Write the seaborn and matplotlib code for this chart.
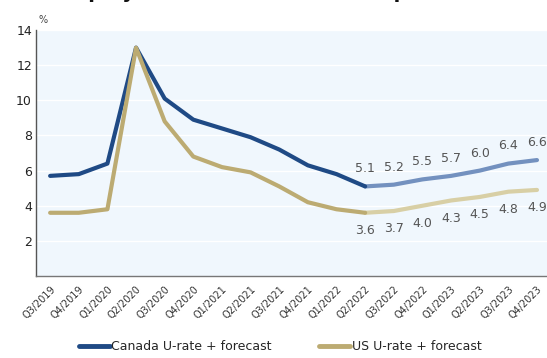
import matplotlib
matplotlib.use("Agg")
import matplotlib.pyplot as plt
import seaborn as sns
import pandas as pd
from matplotlib.lines import Line2D

quarters = ["Q3/2019", "Q4/2019", "Q1/2020", "Q2/2020", "Q3/2020", "Q4/2020",
            "Q1/2021", "Q2/2021", "Q3/2021", "Q4/2021", "Q1/2022", "Q2/2022",
            "Q3/2022", "Q4/2022", "Q1/2023", "Q2/2023", "Q3/2023", "Q4/2023"]
canada = [5.7, 5.8, 6.4, 13.0, 10.1, 8.9, 8.4, 7.9, 7.2, 6.3, 5.8, 5.1,
          5.2, 5.5, 5.7, 6.0, 6.4, 6.6]
us = [3.6, 3.6, 3.8, 13.0, 8.8, 6.8, 6.2, 5.9, 5.1, 4.2, 3.8, 3.6,
      3.7, 4.0, 4.3, 4.5, 4.8, 4.9]
forecast_start = 11
yticks = [2, 4, 6, 8, 10, 12, 14]

sns.set_style("white")
plt.rcParams['font.family'] = ['DejaVu Sans']

fig = plt.figure(figsize=(5.47, 3.58), dpi=100)
ax = fig.add_axes([0.066, 0.229, 0.934, 0.687])
ax.set_facecolor("#f0f7fd")

df = pd.DataFrame({"x": list(range(len(quarters))), "canada": canada, "us": us})
hist = df.iloc[:forecast_start + 1]
fc = df.iloc[forecast_start:]

c_hist, c_fc = "#1f4a85", "#7391bf"
u_hist, u_fc = "#bcab72", "#d8cfa5"

sns.lineplot(data=fc, x="x", y="us", ax=ax, color=u_fc, lw=3, solid_capstyle="round")
sns.lineplot(data=fc, x="x", y="canada", ax=ax, color=c_fc, lw=3, solid_capstyle="round")
sns.lineplot(data=hist, x="x", y="canada", ax=ax, color=c_hist, lw=3, solid_capstyle="round")
sns.lineplot(data=hist, x="x", y="us", ax=ax, color=u_hist, lw=3, solid_capstyle="round")

for i in range(forecast_start, len(quarters)):
    ax.annotate(f"{canada[i]:.1f}", (i, canada[i]), xytext=(0, 8), textcoords="offset points",
                ha="center", va="bottom", fontsize=9, color="#555555")
    ax.annotate(f"{us[i]:.1f}", (i, us[i]), xytext=(0, -8), textcoords="offset points",
                ha="center", va="top", fontsize=9, color="#555555")

ax.set_ylim(0, 14)
ax.set_xlim(-0.49, 17.35)
ax.set_yticks(yticks)
ax.set_yticklabels([str(t) for t in yticks], fontsize=9, color="#222222")
ax.set_xticks(range(len(quarters)))
ax.set_xticklabels(quarters, rotation=45, ha="right", rotation_mode="anchor", fontsize=7, color="#333333")
ax.tick_params(axis="both", length=0, pad=3)
ax.tick_params(axis="x", pad=6)
ax.grid(axis="y", color="white", lw=1)
ax.set_axisbelow(True)
ax.set_xlabel("")
ax.set_ylabel("")
for s in ["top", "right"]:
    ax.spines[s].set_visible(False)
ax.spines["left"].set_color("#555555")
ax.spines["left"].set_linewidth(1)
ax.spines["bottom"].set_color("#777777")
ax.spines["bottom"].set_linewidth(1)

fig.text(43 / 547, 1 - 20 / 358, "%", fontsize=7, color="#444444", ha="center", va="center")
fig.text(25 / 547, 1 + 2 / 358, "Unemployment rate forecast comparison", fontsize=14,
         fontweight="bold", color="#111111", ha="left", va="baseline")

handles = [Line2D([0], [0], color=c_hist, lw=3.5),
           Line2D([0], [0], color=u_hist, lw=3.5)]
fig.legend(handles, ["Canada U-rate + forecast", "US U-rate + forecast"],
           loc="center", bbox_to_anchor=(280 / 547, 1 - 347 / 358), ncol=2, frameon=False,
           fontsize=9, handlelength=2.5, handletextpad=0.1, columnspacing=3.8)

fig.savefig("out.png", dpi=100)
